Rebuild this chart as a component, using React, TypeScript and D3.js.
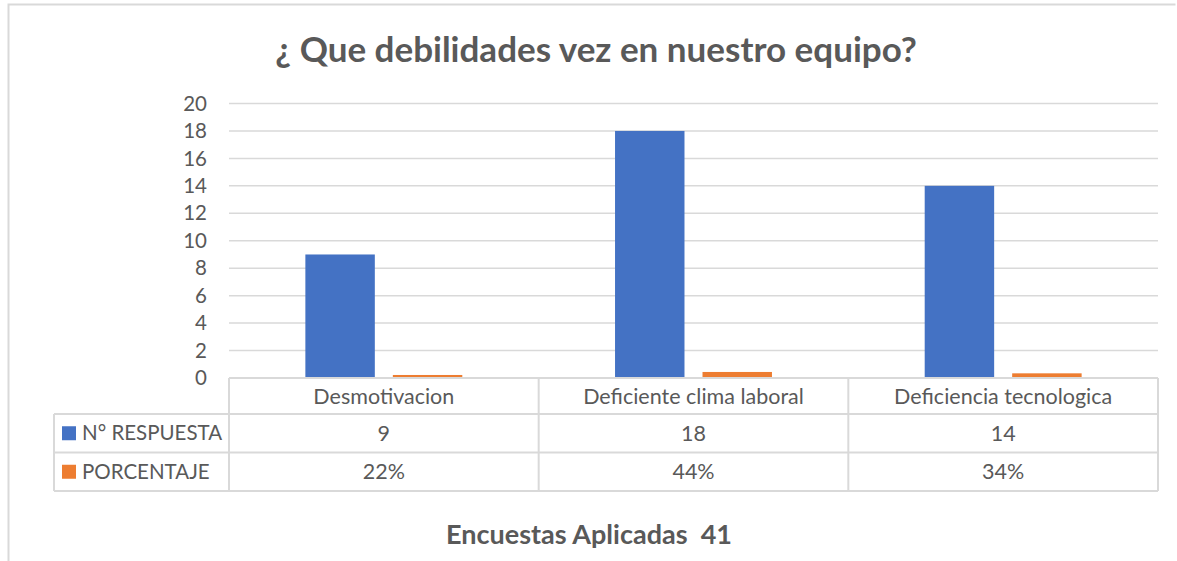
import React from "react";
import * as d3 from "d3";

const categories = ["Desmotivacion", "Deficiente clima laboral", "Deficiencia tecnologica"];
const seriesNames = ["N° RESPUESTA", "PORCENTAJE"];
const respuestas = [9, 18, 14];
const porcentaje = [0.22, 0.44, 0.34];
const yTicks = [0, 2, 4, 6, 8, 10, 12, 14, 16, 18, 20];
const title = "¿ Que debilidades vez en nuestro equipo?";
const footer = "Encuestas Aplicadas  41";

const colors = ["#4472C4", "#ED7D31"];
const textColor = "#595959";
const gridColor = "#d9d9d9";
const font = "Lato, 'Open Sans', sans-serif";

export default function App() {
  const W = 1177, H = 561;
  const plotLeft = 229, plotRight = 1158;
  const yTop = 103.5, yBase = 378;
  const row1 = 414, row2 = 452.5, row3 = 491;
  const legendLeft = 54;

  const x = d3.scaleBand<string>().domain(categories).range([plotLeft, plotRight]).padding(0);
  const xs = d3.scaleBand<string>().domain(seriesNames).range([0, x.bandwidth()]).paddingInner(0.206).paddingOuter(0.873);
  const y = d3.scaleLinear().domain([0, 20]).range([yBase, yTop]);
  const seriesValues = [respuestas, porcentaje];
  const pct = d3.format(".0%");
  const rowLabels = [respuestas.map(String), porcentaje.map((v) => pct(v))];

  return (
    <div style={{ position: "absolute", left: 0, top: 0 }}>
      <svg width={W} height={H} style={{ display: "block", fontFamily: font }}>
        <rect x={0} y={0} width={W} height={H} fill="#fff" />
        <path d={`M8.5,${H + 5} V4.5 H1175.5`} fill="none" stroke={gridColor} strokeWidth={2} />
        <text x={596} y={62} textAnchor="middle" fontSize={35} fontWeight={700} fill={textColor}>{title}</text>
        {yTicks.map((t) => (
          <g key={t}>
            {t > 0 && <line x1={plotLeft} x2={plotRight} y1={y(t)} y2={y(t)} stroke={gridColor} strokeWidth={1.5} />}
            <text x={207} y={y(t)} dy="0.35em" textAnchor="end" fontSize={20.5} fill={textColor}>{t}</text>
          </g>
        ))}
        {seriesNames.map((s, si) =>
          categories.map((c, ci) => {
            const v = seriesValues[si][ci];
            const x0 = (x(c) ?? 0) + (xs(s) ?? 0);
            return <rect key={s + c} x={x0} y={y(v)} width={xs.bandwidth()} height={yBase - y(v)} fill={colors[si]} />;
          })
        )}
        <g stroke={gridColor} strokeWidth={2} fill="none">
          <line x1={plotLeft} x2={plotRight} y1={yBase} y2={yBase} />
          <line x1={legendLeft} x2={plotRight} y1={row1} y2={row1} />
          <line x1={legendLeft} x2={plotRight} y1={row2} y2={row2} />
          <line x1={legendLeft} x2={plotRight} y1={row3} y2={row3} />
          <line x1={legendLeft} x2={legendLeft} y1={row1} y2={row3} />
          {categories.map((c) => (
            <line key={c} x1={x(c)} x2={x(c)} y1={yBase} y2={row3} />
          ))}
          <line x1={plotRight} x2={plotRight} y1={yBase} y2={row3} />
        </g>
        {categories.map((c) => (
          <text key={c} x={(x(c) ?? 0) + x.bandwidth() / 2} y={(yBase + row1) / 2} dy="0.35em" textAnchor="middle" fontSize={21.5} fill={textColor}>{c}</text>
        ))}
        {seriesNames.map((s, si) => {
          const top = si === 0 ? row1 : row2;
          const bot = si === 0 ? row2 : row3;
          const cy = (top + bot) / 2;
          return (
            <g key={s}>
              <rect x={62} y={cy - 7} width={14} height={14} fill={colors[si]} />
              <text x={82} y={cy} dy="0.35em" fontSize={20.5} fill={textColor}>{s}</text>
              {categories.map((c, ci) => (
                <text key={c} x={(x(c) ?? 0) + x.bandwidth() / 2} y={cy} dy="0.35em" textAnchor="middle" fontSize={21.5} fill={textColor}>{rowLabels[si][ci]}</text>
              ))}
            </g>
          );
        })}
        <text x={589} y={535} dy="0.35em" textAnchor="middle" fontSize={27} fontWeight={700} fill={textColor} style={{ whiteSpace: "pre" }}>{footer}</text>
      </svg>
    </div>
  );
}
